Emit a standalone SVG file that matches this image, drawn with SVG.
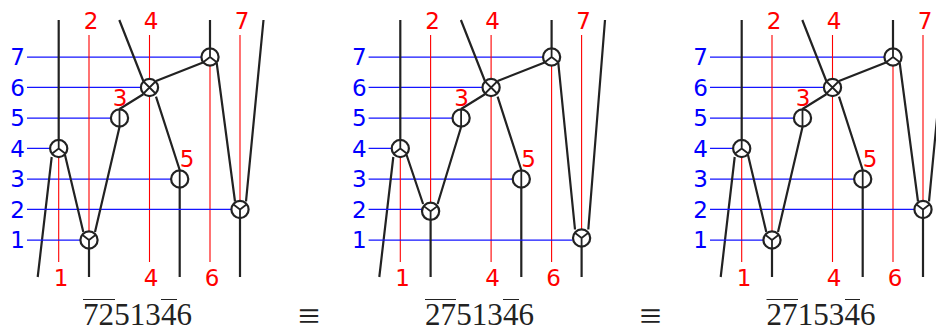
<svg xmlns="http://www.w3.org/2000/svg" xmlns:xlink="http://www.w3.org/1999/xlink" width="936" height="327" viewBox="0 0 936 327">
<style>
.w{stroke:#222;stroke-width:2.2;fill:none}
.b{stroke:#1414ff;stroke-width:1.25;fill:none}
.r{stroke:#ff0000;stroke-width:1.1;fill:none}
.c{stroke:#222;stroke-width:2.2;fill:#fff}
.s{stroke:#222;stroke-width:1.8;fill:none}
.bt{fill:#0000ff;font:23px "DejaVu Sans",sans-serif;text-anchor:end}
.rt{fill:#ff0000;font:23px "DejaVu Sans",sans-serif;text-anchor:middle}
.m{fill:#222;font:31px "Liberation Serif",serif}
.o{stroke:#222;stroke-width:1;fill:none}
.e{fill:#222;font:39px "Liberation Serif",serif;text-anchor:middle}
</style>
<defs>
<g id="n-in"><circle class="c" r="8.6"/><path class="s" d="M0-8.6V0M0 0L-6.8 5.2M0 0L6.8 5.2"/></g>
<g id="n-out"><circle class="c" r="8.6"/><path class="s" d="M0 8.6V0M0 0L-6.8-5.2M0 0L6.8-5.2"/></g>
<g id="n-x"><circle class="c" r="8.6"/><path class="s" d="M-6-6L6 6M6-6L-6 6"/></g>
<g id="n-v"><circle class="c" r="8.6"/><path class="s" d="M0-8.6V8.6"/></g>
<g id="grid">
<path class="b" d="M27 57H201M27 87.3H141M27 118H111M27 148.3H50M27 179H171"/>
<path class="r" d="M58.7 157V262M149.5 35V262M210 66V262"/>
<path class="w" d="M58.7 20V140M51.7 157L37.7 277M119.3 20L143.3 81M156 96.7L179.7 170M179.7 188V277M156 81L203 62.5M143.3 94.3L119.5 109M210 20V48"/>
</g>
</defs>
<g id="connectors">
<g id="connectors-a" transform="translate(0 0)">
<use xlink:href="#grid" href="#grid"/>
<path class="b" d="M27 209.3H231M27 240H80"/>
<path class="r" d="M89 35V231M240 35V201"/>
<path class="w" d="M65 155L83.3 232M119.5 127L95 232M216.7 63L235 201.5M263.5 20L246 201.5M89 249V277M240 218V277"/>
</g>
<g id="connectors-b" transform="translate(341.6 0)">
<use xlink:href="#grid" href="#grid"/>
<path class="b" d="M27 209.3H81M27 240H231"/>
<path class="r" d="M89 35V203M240 35V229"/>
<path class="w" d="M65 155L81.5 204M119.5 127L96 204M216.7 63L233.4 229.5M263.4 20L246.7 229.5M89 220V277M240 247V277"/>
</g>
<g id="connectors-c" transform="translate(683 0)">
<use xlink:href="#grid" href="#grid"/>
<path class="b" d="M27 209.3H231M27 240H80"/>
<path class="r" d="M89 35V231M240 35V201"/>
<path class="w" d="M65 155L83.3 232M119.5 127L95 232M216.7 63L235 201.5M263.5 20L246 201.5M89 249V277M240 218V277"/>
</g>
</g>
<g id="a1"><use href="#n-out" x="89" y="240"/></g>
<g id="a2"><use href="#n-out" x="240" y="209.5"/></g>
<g id="a3"><use href="#n-v" x="179.7" y="179"/></g>
<g id="a4"><use href="#n-in" x="58.7" y="148.5"/></g>
<g id="a5"><use href="#n-v" x="119.5" y="118"/></g>
<g id="a6"><use href="#n-x" x="149.5" y="87.5"/></g>
<g id="a7"><use href="#n-in" x="210" y="57"/></g>
<g id="b1"><use href="#n-out" x="581.6" y="238"/></g>
<g id="b2"><use href="#n-out" x="430.6" y="211.3"/></g>
<g id="b3"><use href="#n-v" x="521.3" y="179"/></g>
<g id="b4"><use href="#n-in" x="400.3" y="148.5"/></g>
<g id="b5"><use href="#n-v" x="461.1" y="118"/></g>
<g id="b6"><use href="#n-x" x="491.1" y="87.5"/></g>
<g id="b7"><use href="#n-in" x="551.6" y="57"/></g>
<g id="c1"><use href="#n-out" x="772" y="240"/></g>
<g id="c2"><use href="#n-out" x="923" y="209.5"/></g>
<g id="c3"><use href="#n-v" x="862.7" y="179"/></g>
<g id="c4"><use href="#n-in" x="741.7" y="148.5"/></g>
<g id="c5"><use href="#n-v" x="802.5" y="118"/></g>
<g id="c6"><use href="#n-x" x="832.5" y="87.5"/></g>
<g id="c7"><use href="#n-in" x="893" y="57"/></g>
<g id="labels-a">
<text class="bt" x="25" y="65">7</text><text class="bt" x="25" y="96">6</text><text class="bt" x="25" y="126">5</text><text class="bt" x="25" y="157">4</text><text class="bt" x="25" y="187">3</text><text class="bt" x="25" y="218">2</text><text class="bt" x="25" y="248">1</text>
<text class="rt" x="91" y="29">2</text><text class="rt" x="151" y="29">4</text><text class="rt" x="242" y="29">7</text><text class="rt" x="120" y="106">3</text><text class="rt" x="187" y="167">5</text><text class="rt" x="61" y="286">1</text><text class="rt" x="151" y="286">4</text><text class="rt" x="212" y="286">6</text>
<text class="m" x="83" y="325" textLength="109">7251346</text>
<path class="o" d="M83 299.5H115M161 299.5H177"/>
<text class="e" x="309" y="329">≡</text>
</g>
<g id="labels-b">
<text class="bt" x="366.6" y="65">7</text><text class="bt" x="366.6" y="96">6</text><text class="bt" x="366.6" y="126">5</text><text class="bt" x="366.6" y="157">4</text><text class="bt" x="366.6" y="187">3</text><text class="bt" x="366.6" y="218">2</text><text class="bt" x="366.6" y="248">1</text>
<text class="rt" x="432.6" y="29">2</text><text class="rt" x="492.6" y="29">4</text><text class="rt" x="583.6" y="29">7</text><text class="rt" x="461.6" y="106">3</text><text class="rt" x="528.6" y="167">5</text><text class="rt" x="402.6" y="286">1</text><text class="rt" x="492.6" y="286">4</text><text class="rt" x="553.6" y="286">6</text>
<text class="m" x="425" y="325" textLength="109">2751346</text>
<path class="o" d="M425 299.5H456M503 299.5H519"/>
<text class="e" x="650.5" y="329">≡</text>
</g>
<g id="labels-c">
<text class="bt" x="708" y="65">7</text><text class="bt" x="708" y="96">6</text><text class="bt" x="708" y="126">5</text><text class="bt" x="708" y="157">4</text><text class="bt" x="708" y="187">3</text><text class="bt" x="708" y="218">2</text><text class="bt" x="708" y="248">1</text>
<text class="rt" x="774" y="29">2</text><text class="rt" x="834" y="29">4</text><text class="rt" x="925" y="29">7</text><text class="rt" x="803" y="106">3</text><text class="rt" x="870" y="167">5</text><text class="rt" x="744" y="286">1</text><text class="rt" x="834" y="286">4</text><text class="rt" x="895" y="286">6</text>
<text class="m" x="766.5" y="325" textLength="109">2715346</text>
<path class="o" d="M766.5 299.5H798M845 299.5H860"/>
</g>
</svg>
